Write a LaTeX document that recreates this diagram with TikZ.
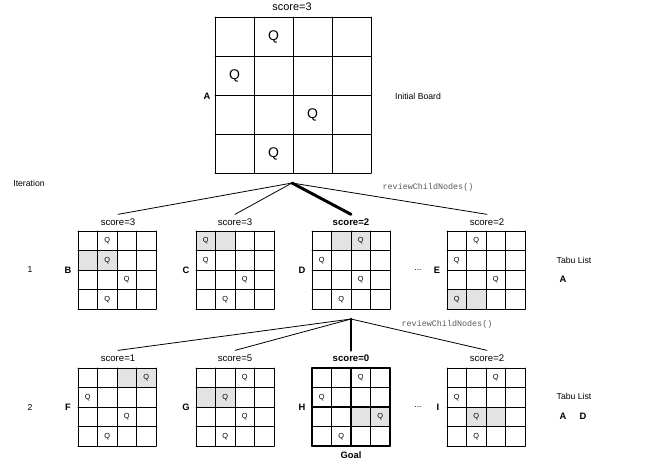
\documentclass[tikz,border=0pt]{standalone}
\usepackage{fontspec}
\setmainfont{Liberation Sans}
\setmonofont{Liberation Mono}
\tikzset{
  cellshade/.style={fill=black!11},
  gridline/.style={line width=0.75pt},
  goalline/.style={line width=1.2pt},
  bigq/.style={font=\fontsize{10.5}{12}\selectfont,inner sep=0pt},
  smallq/.style={font=\fontsize{5.5}{6}\selectfont,inner sep=0pt},
  score/.style={font=\fontsize{7.2}{8}\selectfont,inner sep=3pt},
  topscore/.style={font=\fontsize{8.2}{9}\selectfont,inner sep=1pt},
  boardname/.style={font=\bfseries\fontsize{7}{8}\selectfont,inner sep=1pt},
  plain/.style={font=\fontsize{6.5}{8}\selectfont,inner sep=1pt},
  call/.style={font=\ttfamily\fontsize{6.3}{8}\selectfont,text=black!65,inner sep=1pt},
  move/.style={line width=0.6pt},
  best/.style={line width=2.2pt},
}
% #1 name, #2/#3 top left corner, #4 cell size, #5 queens (row/col), #6 shaded cells (row/col), #7 line style, #8 queen style
\newcommand{\qboard}[8]{%
  \coordinate (#1) at ({#2+2*#4},{#3+2*#4});
  \foreach \r/\c in {#6}
    \fill[cellshade] ({#2+\c*#4},{#3+\r*#4}) rectangle ++(#4,#4);
  \foreach \r/\c in {#5}
    \node[#8] (#1q\r\c) at ({#2+(\c+0.5)*#4},{#3+(\r+0.5)*#4}) {Q};
  \foreach \i in {0,...,4} {
    \draw[#7] ({#2+\i*#4},#3) -- ({#2+\i*#4},{#3+4*#4});
    \draw[#7] (#2,{#3+\i*#4}) -- ({#2+4*#4},{#3+\i*#4});
  }
}
\begin{document}
\begin{tikzpicture}[x=0.75pt,y=-0.75pt,line cap=round,line join=round]
\useasboundingbox (0,0) rectangle (663,469);

% initial board
\qboard{A}{215}{17}{39}{0/1,1/0,2/2,3/1}{}{gridline}{bigq}
\node[topscore] (sA) at (292,7) {score=3};
\node[boardname] (nA) at (207,96) {A};
\node[plain] (init) at (418,96) {Initial Board};
\coordinate (root) at (292,183);

% iteration 1
\node[plain] (iter) at (29,183) {Iteration};
\node[plain] (it1) at (30,270) {1};
\qboard{B}{78}{231}{19.5}{0/1,1/1,2/2,3/1}{1/0,1/1}{gridline}{smallq}
\qboard{C}{196}{231}{19.5}{0/0,1/0,2/2,3/1}{0/0,0/1}{gridline}{smallq}
\qboard{D}{312}{231}{19.5}{0/2,1/0,2/2,3/1}{0/1,0/2}{gridline}{smallq}
\qboard{E}{447}{231}{19.5}{0/1,1/0,2/2,3/0}{3/0,3/1}{gridline}{smallq}
\node[score] (sB) at (118,222) {score=3};
\node[score] (sC) at (235,222) {score=3};
\node[score,font=\bfseries\fontsize{7.2}{8}\selectfont] (sD) at (351,222) {score=2};
\node[score] (sE) at (487,222) {score=2};
\foreach \n/\x in {B/68,C/186,D/302,E/437}
  \node[boardname] (n\n) at (\x,270) {\n};
\node[plain] (dots1) at (418,270) {...};
\node[plain] (tabu1) at (574,260) {Tabu List};
\node[boardname] (tA1) at (563,279) {A};
\draw[move] (root) -- (sB.north);
\draw[move] (root) -- (sC.north);
\draw[best] (root) -- (sD.north);
\draw[move] (root) -- (sE.north);
\node[call] (rev1) at (428,187) {reviewChildNodes()};

% iteration 2
\coordinate (next) at (351,319);
\node[plain] (it2) at (30,407) {2};
\qboard{F}{78}{368}{19.5}{0/3,1/0,2/2,3/1}{0/2,0/3}{gridline}{smallq}
\qboard{G}{196}{368}{19.5}{0/2,1/1,2/2,3/1}{1/0,1/1}{gridline}{smallq}
\qboard{H}{312}{368}{19.5}{0/2,1/0,2/3,3/1}{2/2,2/3}{goalline}{smallq}
\qboard{I}{447}{368}{19.5}{0/2,1/0,2/1,3/1}{2/1,2/2}{gridline}{smallq}
\node[score] (sF) at (118,358) {score=1};
\node[score] (sG) at (235,358) {score=5};
\node[score,font=\bfseries\fontsize{7.2}{8}\selectfont] (sH) at (351,358) {score=0};
\node[score] (sI) at (487,358) {score=2};
\foreach \n/\x in {F/68,G/186,H/302,I/438}
  \node[boardname] (n\n) at (\x,407) {\n};
\node[plain] (dots2) at (418,407) {...};
\node[boardname] (goal) at (351,455) {Goal};
\node[plain] (tabu2) at (574,396) {Tabu List};
\node[boardname] (tA2) at (563,416) {A};
\node[boardname] (tD2) at (583,416) {D};
\draw[move] (next) -- (sF.north);
\draw[move] (next) -- (sG.north);
\draw[best] (next) -- (sH.north);
\draw[move] (next) -- (sI.north);
\node[call] (rev2) at (447,324) {reviewChildNodes()};
\end{tikzpicture}
\end{document}
